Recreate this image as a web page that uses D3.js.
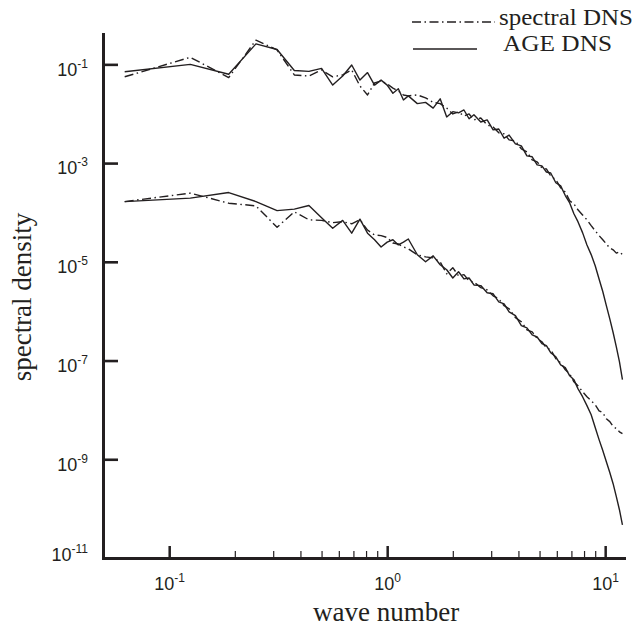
<!DOCTYPE html>
<html>
<head>
<meta charset="utf-8">
<script src="https://cdn.jsdelivr.net/npm/d3@7"></script>
<style>
  body { margin: 0; background: #fff; }
  svg { display: block; }
</style>
</head>
<body>
<div id="chart"></div>
<script>
// wave numbers of the sampled spectrum points
const waveNumber = [
  0.0625, 0.125, 0.1875, 0.25, 0.3125, 0.375, 0.4375, 0.5, 0.5625, 0.625,
  0.6875, 0.75, 0.8125, 0.875, 0.9375, 1.0, 1.0625, 1.125, 1.1875, 1.25,
  1.375, 1.5, 1.625, 1.75, 1.875, 2.0,
  2.125, 2.25, 2.375, 2.5, 2.6875, 2.875, 3.0625, 3.25, 3.4375, 3.625,
  3.875, 4.125, 4.375, 4.625, 4.875, 5.125, 5.375, 5.625, 5.9375, 6.25,
  6.5625, 6.875, 7.1875, 7.5, 7.875, 8.25, 8.625, 9.0, 9.375, 9.75,
  10.125, 10.5, 10.875, 11.25, 11.625, 12.0
];

// upper pair of curves
const spectralUpper = [
  5.6e-2, 1.39e-1, 5.4e-2, 3.1e-1, 1.96e-1, 6.1e-2, 5.8e-2, 7.7e-2, 5.6e-2, 6.1e-2,
  7.7e-2, 3.65e-2, 2.4e-2, 4.2e-2, 4.6e-2, 4.0e-2, 3.3e-2, 2.9e-2, 2.4e-2, 2.3e-2,
  2.4e-2, 2.1e-2, 1.7e-2, 1.6e-2, 1.3e-2, 9.9e-3,
  1.09e-2, 9.0e-3, 9.9e-3, 7.5e-3, 8.2e-3, 5.9e-3, 5.4e-3, 4.1e-3, 3.9e-3, 2.95e-3,
  2.8e-3, 1.94e-3, 1.69e-3, 1.16e-3, 1.06e-3, 8.0e-4, 7.6e-4, 5.5e-4, 4.6e-4, 3.15e-4,
  2.6e-4, 1.72e-4, 1.49e-4, 1.13e-4, 8.9e-5, 7.1e-5, 5.4e-5, 4.25e-5, 3.4e-5, 2.8e-5,
  2.3e-5, 1.9e-5, 1.75e-5, 1.5e-5, 1.6e-5, 1.4e-5
];
const ageUpper = [
  7.1e-2, 1.0e-1, 6.3e-2, 2.6e-1, 2.0e-1, 7.5e-2, 7.2e-2, 8.3e-2, 3.8e-2, 5.8e-2,
  9.7e-2, 4.8e-2, 6.8e-2, 3.8e-2, 4.8e-2, 3.8e-2, 2.6e-2, 3.2e-2, 1.9e-2, 2.3e-2,
  1.6e-2, 1.7e-2, 1.3e-2, 2.0e-2, 8.6e-3, 1.1e-2,
  1.04e-2, 1.19e-2, 7.9e-3, 9.5e-3, 6.8e-3, 7.5e-3, 4.7e-3, 4.9e-3, 3.2e-3, 3.7e-3,
  2.45e-3, 2.23e-3, 1.40e-3, 1.34e-3, 9.2e-4, 8.8e-4, 6.6e-4, 6.3e-4, 4.0e-4, 3.45e-4,
  2.2e-4, 1.56e-4, 9.4e-5, 6.5e-5, 3.9e-5, 2.2e-5, 1.4e-5, 8.3e-6, 4.5e-6, 2.5e-6,
  1.3e-6, 7.0e-7, 3.7e-7, 1.9e-7, 9.5e-8, 4.1e-8
];

// lower pair of curves
const spectralLower = [
  1.66e-4, 2.46e-4, 1.54e-4, 1.36e-4, 5.0e-5, 1.03e-4, 7.1e-5, 6.9e-5, 6.2e-5, 6.5e-5,
  5.9e-5, 7.1e-5, 4.4e-5, 3.5e-5, 3.4e-5, 3.1e-5, 2.4e-5, 2.3e-5, 2.0e-5, 1.83e-5,
  1.39e-5, 1.26e-5, 1.2e-5, 1.0e-5, 5.7e-6, 7.6e-6,
  5.2e-6, 5.5e-6, 4.1e-6, 3.9e-6, 3.0e-6, 2.7e-6, 2.05e-6, 1.78e-6, 1.29e-6, 1.12e-6,
  7.4e-7, 6.1e-7, 4.2e-7, 3.8e-7, 2.8e-7, 2.4e-7, 1.8e-7, 1.66e-7, 1.09e-7, 9.0e-8,
  6.5e-8, 5.4e-8, 3.7e-8, 3.1e-8, 2.34e-8, 1.85e-8, 1.53e-8, 1.27e-8, 9.6e-9, 8.8e-9,
  6.6e-9, 5.8e-9, 4.6e-9, 4.2e-9, 3.6e-9, 3.3e-9
];
const ageLower = [
  1.66e-4, 1.95e-4, 2.53e-4, 1.66e-4, 1.09e-4, 1.17e-4, 1.38e-4, 7.8e-5, 4.8e-5, 6.9e-5,
  3.8e-5, 7.3e-5, 3.8e-5, 2.8e-5, 2.0e-5, 2.5e-5, 2.8e-5, 2.2e-5, 2.5e-5, 2.9e-5,
  1.39e-5, 1.0e-5, 1.32e-5, 8.7e-6, 6.9e-6, 4.7e-6,
  6.3e-6, 4.5e-6, 4.7e-6, 3.4e-6, 3.3e-6, 2.36e-6, 2.25e-6, 1.55e-6, 1.41e-6, 9.7e-7,
  8.1e-7, 5.1e-7, 4.6e-7, 3.3e-7, 3.0e-7, 2.2e-7, 2.0e-7, 1.44e-7, 1.19e-7, 8.2e-8,
  7.2e-8, 4.9e-8, 4.1e-8, 2.7e-8, 1.85e-8, 1.22e-8, 8.0e-9, 4.4e-9, 2.5e-9, 1.5e-9,
  8.9e-10, 5.4e-10, 3.2e-10, 1.75e-10, 9.5e-11, 4.7e-11
];

const yTicks = [1e-1, 1e-3, 1e-5, 1e-7, 1e-9, 1e-11];
const xTicks = [0.1, 1, 10];
const xMinorTicks = [0.2, 0.3, 0.4, 0.5, 0.6, 0.7, 0.8, 0.9, 2, 3, 4, 5, 6, 7, 8, 9];
const legendLabels = ['spectral DNS', 'AGE DNS'];

let width = 638, height = 626;
let ink = '#231f20';
let dashDot = '9,3.5,1.5,3.5';
let serif = '"Liberation Serif", "Times New Roman", serif';
let sans = '"Liberation Sans", Arial, sans-serif';

let svg = d3.select('#chart').append('svg')
    .attr('width', width)
    .attr('height', height);

let xScale = d3.scaleLog()
    .domain([0.0497, 12.2])
    .range([103, 624]);

let yScale = d3.scaleLog()
    .domain([1e-11, 0.412])
    .range([558, 34]);

function supLabel(sel) {
    sel.each(function (d) {
        let t = d3.select(this).text('');
        t.append('tspan').text('10');
        t.append('tspan')
            .attr('dy', -8)
            .attr('font-size', 12)
            .text(Math.round(Math.log10(d)));
    });
}

// minor x ticks
svg.append('g')
    .attr('transform', 'translate(0,558)')
    .call(d3.axisBottom(xScale).tickValues(xMinorTicks).tickSize(-7).tickFormat(''))
    .call(g => g.select('.domain').remove())
    .call(g => g.selectAll('.tick line').attr('stroke', ink).attr('stroke-width', 1.2));

// major x ticks
let xAxis = svg.append('g')
    .attr('transform', 'translate(0,558)')
    .call(d3.axisBottom(xScale).tickValues(xTicks).tickSize(-12).tickSizeOuter(0).tickPadding(19));

xAxis.selectAll('.tick line').attr('stroke', ink).attr('stroke-width', 2.5);
xAxis.select('.domain').attr('stroke', ink).attr('stroke-width', 3).attr('stroke-linecap', 'square');
xAxis.selectAll('.tick text')
    .attr('fill', ink)
    .attr('font-family', sans)
    .attr('font-size', 18)
    .call(supLabel);

let yAxis = svg.append('g')
    .attr('transform', 'translate(103,0)')
    .call(d3.axisLeft(yScale).tickValues(yTicks).tickSize(-15).tickSizeOuter(0).tickPadding(15));

yAxis.selectAll('.tick line').attr('stroke', ink).attr('stroke-width', 2.6);
yAxis.select('.domain').attr('stroke', ink).attr('stroke-width', 3).attr('stroke-linecap', 'square');
yAxis.selectAll('.tick text')
    .attr('fill', ink)
    .attr('font-family', sans)
    .attr('font-size', 18)
    .attr('dy', d => d === 1e-11 ? '0.12em' : '0.6em')
    .call(supLabel);

// curves
let line = d3.line()
    .x(d => xScale(d[0]))
    .y(d => yScale(d[1]));

let series = [
    {values: spectralUpper, dash: dashDot},
    {values: ageUpper, dash: null},
    {values: spectralLower, dash: dashDot},
    {values: ageLower, dash: null}
];

svg.append('g')
    .selectAll('path')
    .data(series)
    .join('path')
    .attr('d', s => line(d3.zip(waveNumber, s.values)))
    .attr('fill', 'none')
    .attr('stroke', ink)
    .attr('stroke-width', 1.4)
    .attr('stroke-linejoin', 'round')
    .attr('stroke-dasharray', s => s.dash);

// axis titles
svg.append('text')
    .attr('x', 313)
    .attr('y', 621)
    .attr('font-family', serif)
    .attr('font-size', 27)
    .attr('fill', ink)
    .text('wave number');

svg.append('text')
    .attr('transform', 'translate(30.5,297) rotate(-90)')
    .attr('text-anchor', 'middle')
    .attr('font-family', serif)
    .attr('font-size', 27)
    .attr('fill', ink)
    .text('spectral density');

// legend
let legend = svg.append('g');
legend.append('line')
    .attr('x1', 412).attr('x2', 495).attr('y1', 22).attr('y2', 22)
    .attr('stroke', ink).attr('stroke-width', 1.3).attr('stroke-dasharray', dashDot);
legend.append('line')
    .attr('x1', 413).attr('x2', 477).attr('y1', 49).attr('y2', 49)
    .attr('stroke', ink).attr('stroke-width', 1.3);
legend.selectAll('text')
    .data(legendLabels)
    .join('text')
    .attr('x', (d, i) => i ? 503 : 499)
    .attr('y', (d, i) => i ? 50.5 : 24.5)
    .attr('font-family', serif)
    .attr('font-size', 23.5)
    .attr('textLength', (d, i) => i ? 109 : 134)
    .attr('lengthAdjust', 'spacingAndGlyphs')
    .attr('fill', ink)
    .text(d => d);
</script>
</body>
</html>
